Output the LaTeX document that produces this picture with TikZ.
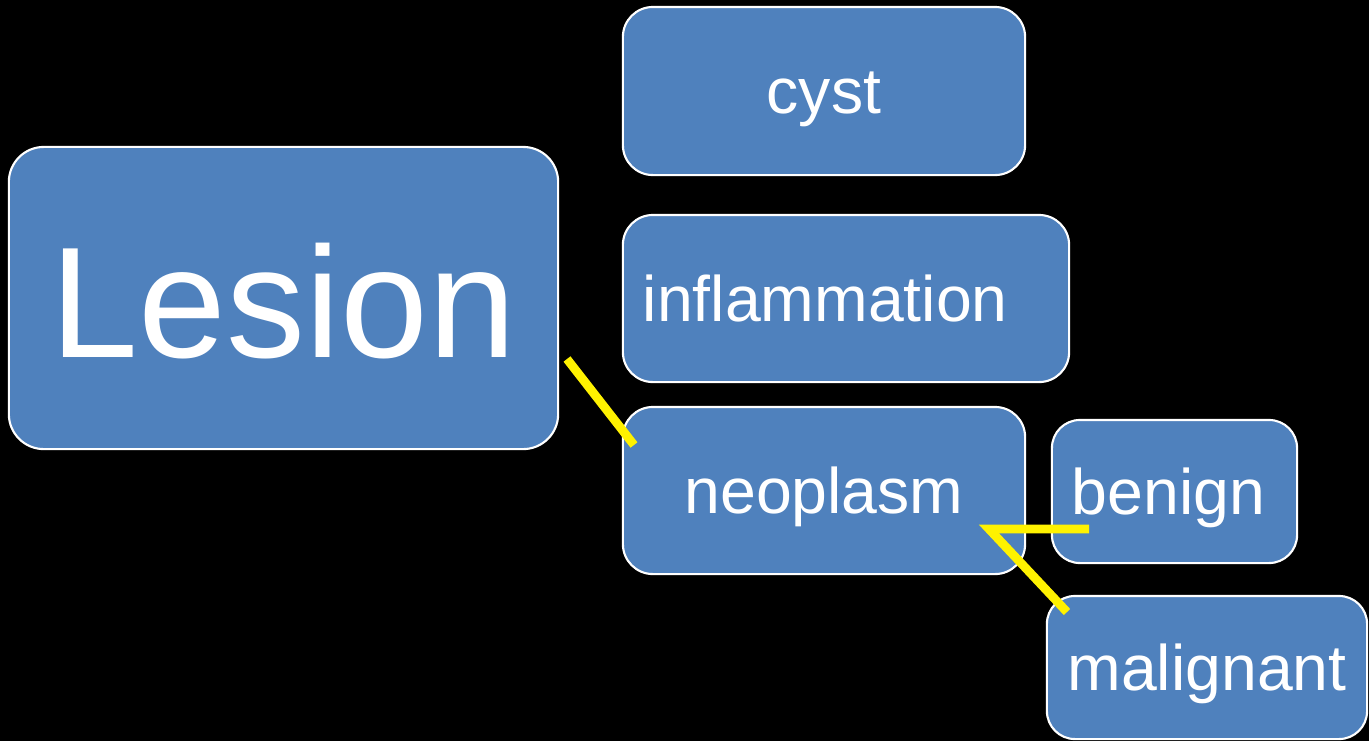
\documentclass[tikz,border=0pt]{standalone}
\usepackage{fontspec}
\setmainfont{Liberation Sans}
\usetikzlibrary{positioning}
\definecolor{boxblue}{HTML}{4F81BD}

\begin{document}
\begin{tikzpicture}[x=0.01cm,y=-0.01cm]
    \tikzstyle{box}=[draw=white,line width=0.6pt,fill=boxblue,rounded corners=0.3cm,text=white,inner sep=0pt,font=\fontsize{18.3}{20}\selectfont,text height=0.58cm,text depth=0.126cm]
    \tikzstyle{padded}=[inner xsep=0.2cm,align=left]
    \tikzstyle{link}=[draw=yellow,line width=2.5pt]
    \fill[black] (0,0) rectangle (1369,741);
    \node[box,minimum width=5.49cm,minimum height=3.02cm,rounded corners=0.35cm,font=\fontsize{44.9}{50}\selectfont,text height=1.4cm,text depth=0.22cm] (lesion) at (283.5,298) {Lesion};
    \node[box,minimum width=4.02cm,minimum height=1.68cm] (cyst) at (824,91) {cyst};
    \node[box,padded,text width=4.06cm,minimum height=1.67cm] (inflam) at (846,298.5) {inflammation};
    \node[box,minimum width=4.02cm,minimum height=1.67cm] (neo) at (824,490.5) {neoplasm};
    \node[box,padded,text width=2.05cm,minimum height=1.43cm,rounded corners=0.28cm] (benign) at (1174.5,491.5) {benign};
    \node[box,minimum width=3.2cm,minimum height=1.43cm,rounded corners=0.28cm] (malig) at (1207,667.5) {malignant};
    \coordinate (l_1) at (567,359);
    \coordinate (l_2) at (634,445);
    \coordinate (l_3) at (1089,529);
    \coordinate (l_4) at (989,529);
    \coordinate (l_5) at (1067,612);
    \draw[link] (l_1) -- (l_2);
    \draw[link] (l_3) -- (l_4) -- (l_5);
    \useasboundingbox (0,0) rectangle (1369,741);
\end{tikzpicture}
\end{document}
